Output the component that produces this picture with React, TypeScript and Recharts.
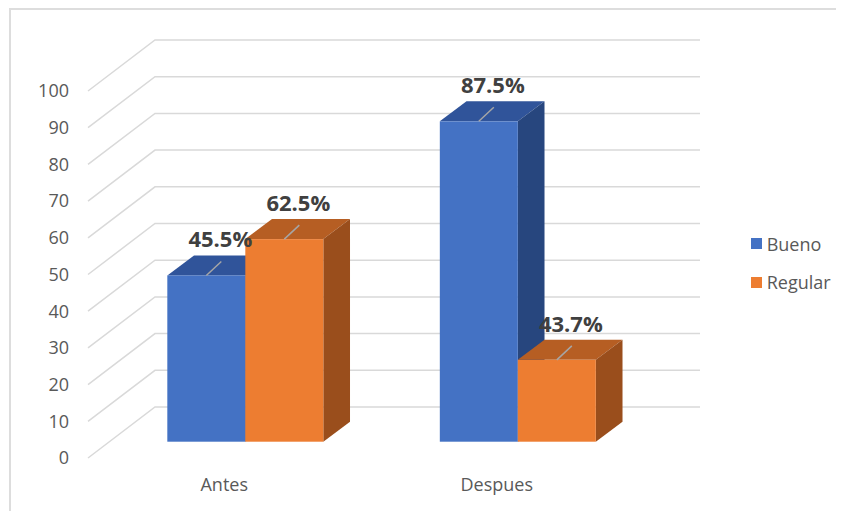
import React from 'react';
import { BarChart, Bar, XAxis, YAxis, CartesianGrid, Legend, LabelList } from 'recharts';

const categories = ['Antes', 'Despues'];
const buenoValues = [45.3, 87.3];
const regularValues = [55.2, 22.3];
const buenoLabels = ['45.5%', '87.5%'];
const regularLabels = ['62.5%', '43.7%'];
const yTicks = [0, 10, 20, 30, 40, 50, 60, 70, 80, 90, 100];
const seriesNames = ['Bueno', 'Regular'];

const data = categories.map((name, i) => ({
  name,
  bueno: buenoValues[i],
  regular: regularValues[i],
  buenoLabel: buenoLabels[i],
  regularLabel: regularLabels[i],
}));

const FONT = '"Open Sans", "Noto Sans", sans-serif';
// depth offsets (styling)
const OX = 21;
const OY = -16.3;
const BDX = 26.7;
const BDY = 20;
const GDX = 67;
const GDY = 51;

const COLORS = {
  bueno: { front: '#4472C4', top: '#30549A', side: '#27467E' },
  regular: { front: '#ED7D31', top: '#B65E23', side: '#9A4E1C' },
};

const makeShape = (c: { front: string; top: string; side: string }) => (props: any) => {
  const { x, y, width, height } = props;
  const fx = x + OX;
  const fy = y + OY;
  const topPath = `M${fx},${fy}L${fx + BDX},${fy - BDY}L${fx + width + BDX},${fy - BDY}L${fx + width},${fy}Z`;
  const sidePath = `M${fx + width},${fy}L${fx + width + BDX},${fy - BDY}L${fx + width + BDX},${fy + height - BDY}L${fx + width},${fy + height}Z`;
  return (
    <g>
      <path d={topPath} fill={c.top} />
      <path d={sidePath} fill={c.side} />
      <rect x={fx} y={fy} width={width} height={height} fill={c.front} />
    </g>
  );
};

const renderLabel = (props: any) => {
  const { x, y, width, value } = props;
  const cx = x + width / 2 + OX;
  const top = y + OY;
  return (
    <g>
      <line x1={cx} y1={top} x2={cx + 15} y2={top - 14} stroke="#A6A6A6" strokeWidth={1.5} />
      <text
        x={cx + 14}
        y={top - 28}
        textAnchor="middle"
        fontFamily={FONT}
        fontWeight="bold"
        fontSize={22}
        fill="#404040"
      >
        {value}
      </text>
    </g>
  );
};

const gridLine = (p: any) => {
  const { x1, y1, x2 } = p;
  const pts = `${x1},${y1} ${x1 + GDX},${y1 - GDY} ${x2 + GDX},${y1 - GDY}`;
  return <polyline key={p.key ?? `g-${p.index}`} points={pts} fill="none" stroke="#D9D9D9" strokeWidth={1.5} />;
};

const LegendContent = () => (
  <div style={{ fontFamily: FONT, fontSize: 18, color: '#595959' }}>
    {seriesNames.map((n, i) => (
      <div key={n} style={{ display: 'flex', alignItems: 'center', height: 38.5 }}>
        <div
          style={{
            width: 11,
            height: 11,
            background: i === 0 ? COLORS.bueno.front : COLORS.regular.front,
            marginRight: 5,
          }}
        />
        <span>{n}</span>
      </div>
    ))}
  </div>
);

export default function App() {
  return (
    <div style={{ position: 'relative', width: 836, height: 503, fontFamily: FONT }}>
      <div
        style={{
          position: 'absolute',
          left: 1,
          top: -0.5,
          width: 835,
          height: 503.5,
          borderTop: '2px solid #DDDDDD',
          borderLeft: '2px solid #DDDDDD',
          boxSizing: 'border-box',
        }}
      />
      <div style={{ position: 'absolute', left: 0, top: 0 }}>
        <BarChart
          width={836}
          height={503}
          data={data}
          margin={{ top: 83, right: 211, bottom: 23, left: 20 }}
          barCategoryGap="21.4%"
          barGap={0}
        >
          <CartesianGrid vertical={false} horizontal={gridLine} />
          <XAxis
            dataKey="name"
            height={30}
            axisLine={false}
            tickLine={false}
            tickSize={0}
            tickMargin={20}
            tick={{ fill: '#595959', fontSize: 18, fontFamily: FONT }}
          />
          <YAxis
            width={60}
            domain={[0, 100]}
            ticks={yTicks}
            axisLine={false}
            tickLine={false}
            tickSize={0}
            tickMargin={19}
            tick={{ fill: '#595959', fontSize: 18, fontFamily: FONT }}
          />
          <Legend
            layout="horizontal"
            align="center"
            verticalAlign="middle"
            content={<LegendContent />}
            wrapperStyle={{ left: 742.7, top: 216.5, width: 'auto' }}
          />
          <Bar dataKey="bueno" isAnimationActive={false} shape={makeShape(COLORS.bueno)}>
            <LabelList dataKey="buenoLabel" content={renderLabel} />
          </Bar>
          <Bar dataKey="regular" isAnimationActive={false} shape={makeShape(COLORS.regular)}>
            <LabelList dataKey="regularLabel" content={renderLabel} />
          </Bar>
        </BarChart>
      </div>
    </div>
  );
}
